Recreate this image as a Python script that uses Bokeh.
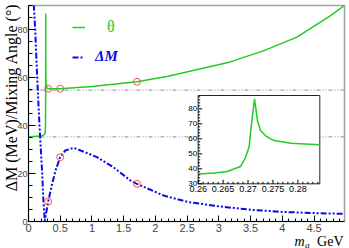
import numpy as np
from bokeh.plotting import figure
from bokeh.models import Range1d, FixedTicker, Span, Legend, LegendItem
from bokeh.core.properties import value
from bokeh.embed import file_html
from bokeh.resources import INLINE

# ---------------- data ----------------
theta_x = [0.0, 0.20, 0.24, 0.2600, 0.2632, 0.2658, 0.2685, 0.2695, 0.2702, 0.2707,
           0.2713, 0.2719, 0.2725, 0.2735, 0.2745, 0.2752, 0.2786, 0.2844,
           0.31, 0.50, 1.00, 1.71, 2.20, 3.18, 3.71, 4.23, 4.76, 4.98]
theta_y = [35.3, 35.6, 36.0, 36.6, 37.2, 38.2, 41.5, 47.7, 54.4, 70.0,
           86.7, 72.0, 65.5, 62.2, 60.0, 58.9, 57.0, 56.0,
           55.3, 55.3, 56.2, 58.2, 60.5, 66.5, 71.2, 76.8, 85.8, 90.0]

dm_x = [0.07, 0.084, 0.105, 0.137, 0.173, 0.216, 0.232, 0.257, 0.31, 0.373, 0.425,
        0.50, 0.58, 0.71, 0.82, 1.08, 1.34, 1.61, 1.71, 2.13, 2.50, 2.87, 3.00,
        3.50, 4.00, 4.50, 4.98]
dm_y = [97.0, 90.0, 80.0, 60.0, 40.0, 20.0, 10.0, 0.3, 8.3, 15.7, 21.2,
        26.8, 29.6, 30.7, 29.6, 26.8, 22.6, 17.0, 15.7, 10.8, 8.2, 6.8, 6.3,
        4.9, 4.0, 3.5, 3.2]

quark_m = [0.31, 0.50, 1.71]
quark_theta = [55.3, 55.3, 58.2]
quark_dm = [8.3, 26.8, 15.7]

ideal_angles = [35.26, 54.74]

x_ticks = [0, 0.5, 1, 1.5, 2, 2.5, 3, 3.5, 4, 4.5]
x_tick_labels = ["0", "0.5", "1", "1.5", "2", "2.5", "3", "3.5", "4", "4.5"]
y_ticks = [0, 20, 40, 60, 80]
y_tick_labels = ["0", "20", "40", "60", "80"]

inset_x_ticks = [0.26, 0.265, 0.27, 0.275, 0.28]
inset_x_labels = ["0.26", "0.265", "0.27", "0.275", "0.28"]
inset_y_ticks = [30, 40, 50, 60, 70, 80]
inset_y_labels = ["30", "40", "50", "60", "70", "80"]

y_title = "ΔM (MeV)/Mixing Angle (°)"

# ---------------- layout ----------------
W, H = 349, 248
BL, BR, BT, BB = 28, 5, 5, 27
FW = W - BL - BR
FH = H - BT - BB
XMAX, YMAX = 4.98, 90

GREEN = "#22cc22"
BLUE = "#0a0ae6"
RED = "#ff5050"

p = figure(width=W, height=H, x_range=Range1d(0, XMAX), y_range=Range1d(0, YMAX),
           output_backend="svg", toolbar_location=None,
           min_border_left=BL, min_border_right=BR, min_border_top=BT, min_border_bottom=BB)
p.xgrid.visible = False
p.ygrid.visible = False
p.outline_line_color = "#a0a0a0"
p.outline_line_width = 1.5
p.background_fill_color = "white"
p.border_fill_color = "white"

xa = p.xaxis[0]
ya = p.yaxis[0]
xa.ticker = FixedTicker(ticks=x_ticks, minor_ticks=list(np.round(np.arange(0, 5.0, 0.1), 3)))
xa.major_label_overrides = {float(t): l for t, l in zip(x_ticks, x_tick_labels)}
ya.ticker = FixedTicker(ticks=y_ticks, minor_ticks=list(np.arange(0, 91, 5)))
ya.major_label_overrides = {float(t): l for t, l in zip(y_ticks, y_tick_labels)}
for ax in (xa, ya):
    ax.major_tick_out = 0
    ax.minor_tick_out = 0
    ax.axis_line_color = "black"
    ax.major_tick_line_color = "black"
    ax.minor_tick_line_color = "black"
    ax.major_label_text_font = "Liberation Sans"
xa.major_label_standoff = 2
ya.major_label_standoff = 1
xa.major_tick_in = 6
xa.minor_tick_in = 3
ya.major_tick_in = 7
ya.minor_tick_in = 4
xa.major_label_text_font_size = "11px"
ya.major_label_text_font_size = "9px"

for a in ideal_angles:
    p.add_layout(Span(location=a, dimension="width", line_color="#8c8c8c", line_width=1,
                      line_dash="4 2 1 2 1 2", level="underlay"))

th = p.line(theta_x, theta_y, line_color=GREEN, line_width=1.5)
dm = p.line(dm_x, dm_y, line_color=BLUE, line_width=2, line_dash="6 2 2 2 2 2")
p.scatter(quark_m, quark_theta, marker="circle", size=7, fill_color=None,
          line_color=RED, line_width=1)
p.scatter(quark_m, quark_dm, marker="circle", size=7, fill_color=None,
          line_color=RED, line_width=1)

# ---------------- inset (sub-coordinates) ----------------
ix = Range1d(0.26, 0.2844)
iy = Range1d(30, 88.9)
inset = p.subplot(x_source=ix, y_source=iy,
                  x_target=Range1d(2.674, 4.591), y_target=Range1d(15.7, 52.5))
inset.quad(left=[ix.start], right=[ix.end], bottom=[iy.start], top=[iy.end],
           fill_color="white", line_color="#222222", line_width=1)
tx = np.array(theta_x)
ty = np.array(theta_y)
m = (tx >= ix.start) & (tx <= ix.end)
inset.line(tx[m], ty[m], line_color=GREEN, line_width=1.5)

ymin_ticks = [float(v) for v in np.arange(30, 89, 2) if v not in inset_y_ticks]
xmin_ticks = [float(v) for v in np.round(np.arange(0.26, 0.2844, 0.001), 4)
              if not np.any(np.isclose(v, inset_x_ticks))]
inset.ray(x=[ix.start] * len(inset_y_ticks), y=inset_y_ticks, length=4, angle=0,
          length_units="screen", line_color="black", line_width=1)
inset.ray(x=[ix.start] * len(ymin_ticks), y=ymin_ticks, length=2, angle=0,
          length_units="screen", line_color="black", line_width=1)
inset.ray(x=inset_x_ticks, y=[iy.start] * len(inset_x_ticks), length=4, angle=np.pi / 2,
          length_units="screen", line_color="black", line_width=1)
inset.ray(x=xmin_ticks, y=[iy.start] * len(xmin_ticks), length=2, angle=np.pi / 2,
          length_units="screen", line_color="black", line_width=1)
inset.text(x=[ix.start] * len(inset_y_ticks), y=inset_y_ticks, text=inset_y_labels,
           text_align="right", text_baseline="middle", x_offset=-1,
           text_font=value("Liberation Sans"), text_font_size="8px", text_color="black")
inset.text(x=inset_x_ticks, y=[iy.start] * len(inset_x_ticks), text=inset_x_labels,
           text_align="center", text_baseline="top", y_offset=2,
           text_font=value("Liberation Sans"), text_font_size="9px", text_color="black")

# ---------------- legends ----------------
leg1 = Legend(items=[LegendItem(label="θ", renderers=[th])], location=(44, FH - 31),
              padding=0, margin=0, spacing=0, border_line_color=None,
              background_fill_alpha=0, glyph_width=13, glyph_height=14, label_height=14,
              label_standoff=22, label_text_font="Liberation Serif",
              label_text_font_size="16px", label_text_color=GREEN)
leg2 = Legend(items=[LegendItem(label="ΔM", renderers=[dm])], location=(44, FH - 60),
              padding=0, margin=0, spacing=0, border_line_color=None,
              background_fill_alpha=0, glyph_width=12, glyph_height=14, label_height=14,
              label_standoff=11, label_text_font="Liberation Serif",
              label_text_font_style="bold italic",
              label_text_font_size="15px", label_text_color=BLUE)
p.add_layout(leg1, "center")
p.add_layout(leg2, "center")

# ---------------- axis titles (overlay level, outside the frame) ----------------
p.text(x=[0], y=[YMAX], text=[y_title], level="overlay", angle=np.pi / 2,
       text_align="right", text_baseline="middle", x_offset=-17, y_offset=-2,
       text_font=value("Liberation Serif"), text_font_size="16px", text_color="black")
p.text(x=[XMAX], y=[0], text=["GeV"], level="overlay", text_align="right",
       text_baseline="alphabetic", x_offset=-1, y_offset=20,
       text_font=value("Liberation Serif"), text_font_size="14px", text_color="black")
p.text(x=[XMAX], y=[0], text=["m"], level="overlay", text_align="right",
       text_baseline="alphabetic", x_offset=-40, y_offset=20,
       text_font=value("Liberation Serif"), text_font_style="italic",
       text_font_size="14px", text_color="black")
p.text(x=[XMAX], y=[0], text=["q"], level="overlay", text_align="left",
       text_baseline="alphabetic", x_offset=-39.5, y_offset=23,
       text_font=value("Liberation Serif"), text_font_style="italic",
       text_font_size="9px", text_color="black")

open("out.html", "w").write(file_html(p, INLINE))
